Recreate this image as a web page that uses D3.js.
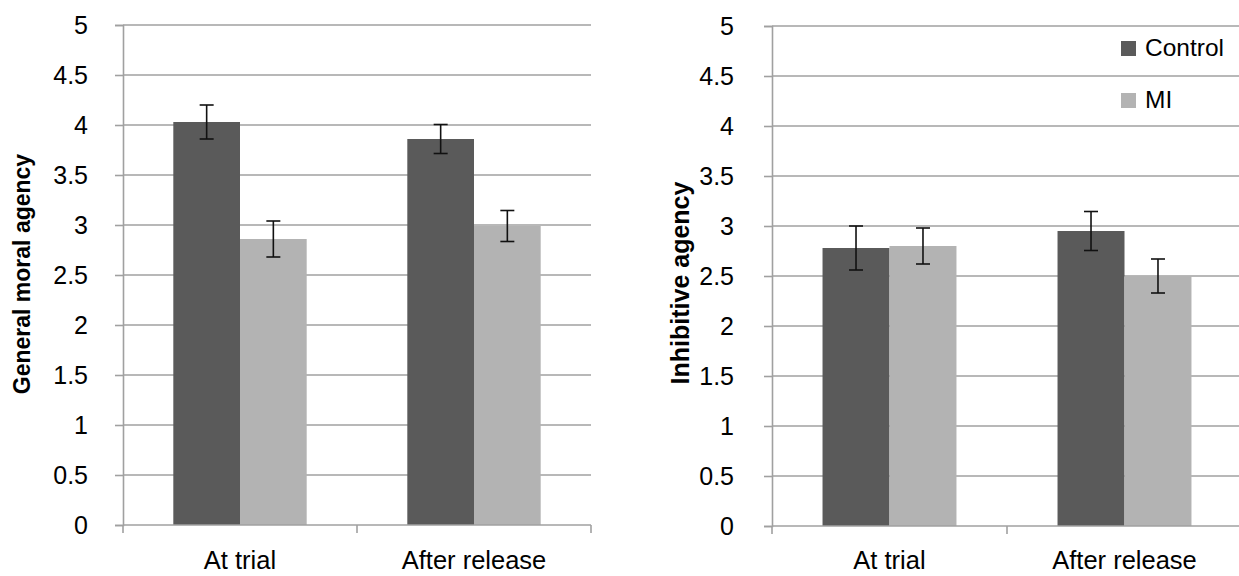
<!DOCTYPE html>
<html>
<head>
<meta charset="utf-8">
<script src="https://cdn.jsdelivr.net/npm/d3@7"></script>
<style>
  body { margin: 0; background: #fff; }
  svg { display: block; font-family: "Liberation Sans", Arial, sans-serif; }
</style>
</head>
<body>
<div id="chart"></div>
<script>
var categories = ["At trial", "After release"];
var groups = ["Control", "MI"];
var yTicks = [0, 0.5, 1, 1.5, 2, 2.5, 3, 3.5, 4, 4.5, 5];

// general moral agency (left panel)
var moralControl = [4.03, 3.86];
var moralMI = [2.86, 2.99];
var moralControlErr = [0.17, 0.145];
var moralMIErr = [0.18, 0.155];

// inhibitive agency (right panel)
var inhibControl = [2.78, 2.95];
var inhibMI = [2.8, 2.5];
var inhibControlErr = [0.22, 0.195];
var inhibMIErr = [0.18, 0.17];

var width = 1239;
var height = 576;
var colors = { Control: "#5a5a5a", MI: "#b3b3b3" };
var gridColor = "#a0a0a0";

var svg = d3
  .select("#chart")
  .append("svg")
  .attr("width", width)
  .attr("height", height);

function drawPanel(opts) {
  var x = d3
    .scaleBand()
    .domain(categories)
    .range([opts.x0, opts.x1])
    .paddingInner(0.43)
    .paddingOuter(0.215);

  var xs = d3.scaleBand().domain(groups).range([0, x.bandwidth()]);

  var y = d3.scaleLinear().domain([0, 5]).range([opts.y0, opts.y1]);

  var g = svg.append("g");

  /* gridlines */
  g.append("g")
    .selectAll("line")
    .data(yTicks.slice(1))
    .enter()
    .append("line")
    .attr("x1", opts.x0)
    .attr("x2", opts.x1)
    .attr("y1", (d) => y(d))
    .attr("y2", (d) => y(d))
    .attr("stroke", gridColor)
    .attr("stroke-width", 1.6);

  /* y axis */
  var yAxis = d3
    .axisLeft(y)
    .tickValues(yTicks)
    .tickSize(8)
    .tickPadding(opts.tickPad)
    .tickFormat((d) => String(d));

  var ya = g
    .append("g")
    .attr("transform", `translate(${opts.x0}, 0)`)
    .call(yAxis);
  ya.select(".domain").attr("stroke", gridColor).attr("stroke-width", 1.6);
  ya.selectAll(".tick line").attr("stroke", gridColor).attr("stroke-width", 1.6);
  ya.selectAll(".tick text")
    .attr("fill", "#000")
    .style("font-size", "25px");

  /* bars */
  var rows = [];
  categories.forEach(function (c, i) {
    rows.push({ cat: c, grp: "Control", v: opts.control[i], e: opts.controlErr[i] });
    rows.push({ cat: c, grp: "MI", v: opts.mi[i], e: opts.miErr[i] });
  });

  g.append("g")
    .selectAll("rect")
    .data(rows)
    .enter()
    .append("rect")
    .attr("x", (d) => x(d.cat) + xs(d.grp))
    .attr("y", (d) => y(d.v))
    .attr("width", xs.bandwidth())
    .attr("height", (d) => y(0) - y(d.v))
    .attr("fill", (d) => colors[d.grp]);

  /* x axis */
  var xa = g.append("g");
  xa.append("line")
    .attr("x1", opts.x0)
    .attr("x2", opts.x1)
    .attr("y1", y(0))
    .attr("y2", y(0))
    .attr("stroke", gridColor)
    .attr("stroke-width", 1.6);
  var bounds = [opts.x0, x(categories[1]) - (x.step() - x.bandwidth()) / 2, opts.x1];
  xa.selectAll(".xt")
    .data(bounds)
    .enter()
    .append("line")
    .attr("x1", (d) => d)
    .attr("x2", (d) => d)
    .attr("y1", y(0))
    .attr("y2", y(0) + 8)
    .attr("stroke", gridColor)
    .attr("stroke-width", 1.6);
  xa.selectAll("text")
    .data(categories)
    .enter()
    .append("text")
    .attr("x", (d) => x(d) + x.bandwidth() / 2)
    .attr("y", 569)
    .attr("text-anchor", "middle")
    .style("font-size", "25.5px")
    .text((d) => d);

  /* error bars */
  var eb = g.append("g").attr("stroke", "#111").attr("stroke-width", 1.6);
  rows.forEach(function (d) {
    var cx = x(d.cat) + xs(d.grp) + xs.bandwidth() / 2;
    eb.append("line")
      .attr("x1", cx).attr("x2", cx)
      .attr("y1", y(d.v + d.e)).attr("y2", y(d.v - d.e));
    eb.append("line")
      .attr("x1", cx - 7).attr("x2", cx + 7)
      .attr("y1", y(d.v + d.e)).attr("y2", y(d.v + d.e));
    eb.append("line")
      .attr("x1", cx - 7).attr("x2", cx + 7)
      .attr("y1", y(d.v - d.e)).attr("y2", y(d.v - d.e));
  });

  /* y title */
  g.append("text")
    .attr("transform", `translate(${opts.titleX}, ${opts.titleY}) rotate(-90)`)
    .attr("text-anchor", "middle")
    .style("font-size", opts.titleSize + "px")
    .style("font-weight", "bold")
    .text(opts.title);

  return { x: x, y: y };
}

drawPanel({
  x0: 123, x1: 591, y0: 525, y1: 25, tickPad: 27,
  control: moralControl, mi: moralMI,
  controlErr: moralControlErr, miErr: moralMIErr,
  title: "General moral agency", titleX: 30, titleY: 274, titleSize: 23
});

drawPanel({
  x0: 772, x1: 1242, y0: 526, y1: 26, tickPad: 30,
  control: inhibControl, mi: inhibMI,
  controlErr: inhibControlErr, miErr: inhibMIErr,
  title: "Inhibitive agency", titleX: 689, titleY: 283, titleSize: 25
});

/* legend */
var legend = svg.append("g").attr("transform", "translate(1121, 41)");
groups.forEach(function (grp, i) {
  var row = legend.append("g").attr("transform", `translate(0, ${i * 52})`);
  row.append("rect")
    .attr("width", 15)
    .attr("height", 15)
    .attr("fill", colors[grp]);
  row.append("text")
    .attr("x", 24)
    .attr("y", 15)
    .style("font-size", "24.5px")
    .text(grp);
});
</script>
</body>
</html>
